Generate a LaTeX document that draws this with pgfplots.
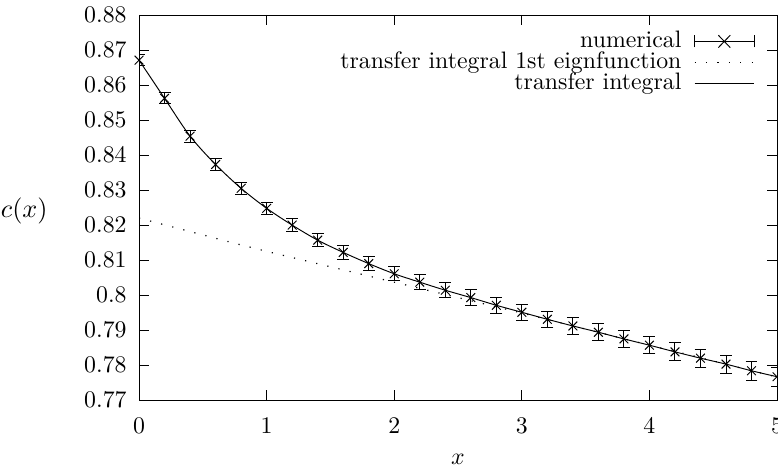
\documentclass[border=0pt]{standalone}
\usepackage{pgfplots}
\pgfplotsset{compat=1.18}
\usepackage{pgfplotstable}

\pgfplotstableread{
x y e
0.0 0.8671 0.0016
0.2 0.8562 0.0016
0.4 0.8454 0.0017
0.6 0.8373 0.0017
0.8 0.8305 0.0018
1.0 0.8248 0.0018
1.2 0.8200 0.0018
1.4 0.8157 0.0019
1.6 0.8122 0.0019
1.8 0.8090 0.0020
2.0 0.8061 0.0020
2.2 0.8037 0.0021
2.4 0.8014 0.0021
2.6 0.7993 0.0022
2.8 0.7971 0.0022
3.0 0.7951 0.0023
3.2 0.7931 0.0023
3.4 0.7912 0.0024
3.6 0.7894 0.0024
3.8 0.7875 0.0025
4.0 0.7857 0.0025
4.2 0.7838 0.0026
4.4 0.7820 0.0026
4.6 0.7803 0.0026
4.8 0.7784 0.0027
5.0 0.7767 0.0027
}\numerical

\pgfplotstableread{
x y
0.00 0.8220
0.25 0.8196
0.50 0.8172
0.75 0.8148
1.00 0.8125
1.25 0.8103
1.50 0.8081
1.75 0.8059
2.00 0.8037
2.25 0.8015
2.50 0.7993
2.75 0.7971
3.00 0.7949
3.25 0.7926
3.50 0.7903
3.75 0.7880
4.00 0.7857
4.25 0.7835
4.50 0.7812
4.75 0.7789
5.00 0.7766
}\eigen

\begin{document}
\begin{tikzpicture}
\begin{axis}[
  scale only axis,
  width=268pt, height=161.8pt,
  xmin=0, xmax=5, ymin=0.77, ymax=0.88,
  xtick={0,1,2,3,4,5},
  ytick={0.77,0.78,0.79,0.80,0.81,0.82,0.83,0.84,0.85,0.86,0.87,0.88},
  tick align=inside,
  major tick length=4.2pt,
  tick style={black, line width=0.4pt},
  axis line style={line width=0.4pt},
  yticklabel style={xshift=-1.7pt, /pgf/number format/fixed, /pgf/number format/precision=2},
  xticklabel style={yshift=-4.2pt},
  xlabel={$x$},
  ylabel={$c(x)$},
  every axis x label/.style={at={(rel axis cs:0.5,0)}, anchor=center, yshift=-24.8pt},
  every axis y label/.style={at={(rel axis cs:0,0.5)}, anchor=east, xshift=-34.5pt, yshift=-1.5pt, scale=1.1},
  legend plot pos=right,
  legend cell align=right,
  legend style={draw=none, fill=none, at={(rel axis cs:1,1)}, anchor=north east,
    xshift=-9.2pt, yshift=-6.5pt, inner sep=0pt, row sep=0pt,
    nodes={inner sep=0pt, text height=6.9pt, text depth=1.9pt}},
]
\coordinate (sw) at (rel axis cs:0,0);
\coordinate (ne) at (rel axis cs:1,1);

\addplot[black, line width=0.4pt, only marks, mark=x, mark size=2.6pt, forget plot,
  error bars/.cd, y dir=both, y explicit,
  error mark options={rotate=90, mark size=2.5pt, line width=0.4pt},
  error bar style={line width=0.4pt},
  ]
  table[x=x, y=y, y error=e] {\numerical};
\addplot[black, line width=0.5pt, dash pattern=on 0.5pt off 4.3pt, forget plot] table[x=x,y=y] {\eigen};
\addplot[black, line width=0.4pt, smooth, forget plot] table[x=x,y=y] {\numerical};

\addlegendimage{legend image code/.code={
  \path[draw=none, fill=none] (0pt,-2.6pt) rectangle (30.5pt,2.6pt);
  \draw[black, line width=0.4pt] (5.5pt,0pt) -- (30.5pt,0pt);
  \draw[black, line width=0.4pt] (5.5pt,-2.5pt) -- (5.5pt,2.5pt);
  \draw[black, line width=0.4pt] (30.5pt,-2.5pt) -- (30.5pt,2.5pt);
  \draw[black, line width=0.4pt] (15.5pt,-2.6pt) -- (20.5pt,2.6pt);
  \draw[black, line width=0.4pt] (15.5pt,2.6pt) -- (20.5pt,-2.6pt);
}}
\addlegendentry{numerical}
\addlegendimage{legend image code/.code={
  \path[draw=none, fill=none] (0pt,-2.6pt) rectangle (30.5pt,2.6pt);
  \draw[black, line width=0.5pt, dash pattern=on 0.5pt off 4.3pt] (5.5pt,0pt) -- (30.5pt,0pt);
}}
\addlegendentry{transfer integral 1st eignfunction}
\addlegendimage{legend image code/.code={
  \path[draw=none, fill=none] (0pt,-2.6pt) rectangle (30.5pt,2.6pt);
  \draw[black, line width=0.4pt] (5.5pt,0pt) -- (30.5pt,0pt);
}}
\addlegendentry{transfer integral}
\end{axis}
\pgfresetboundingbox
\useasboundingbox ([shift={(-58.4pt,-29.8pt)}]sw) rectangle ([shift={(0.4pt,6.3pt)}]ne);
\end{tikzpicture}
\end{document}
